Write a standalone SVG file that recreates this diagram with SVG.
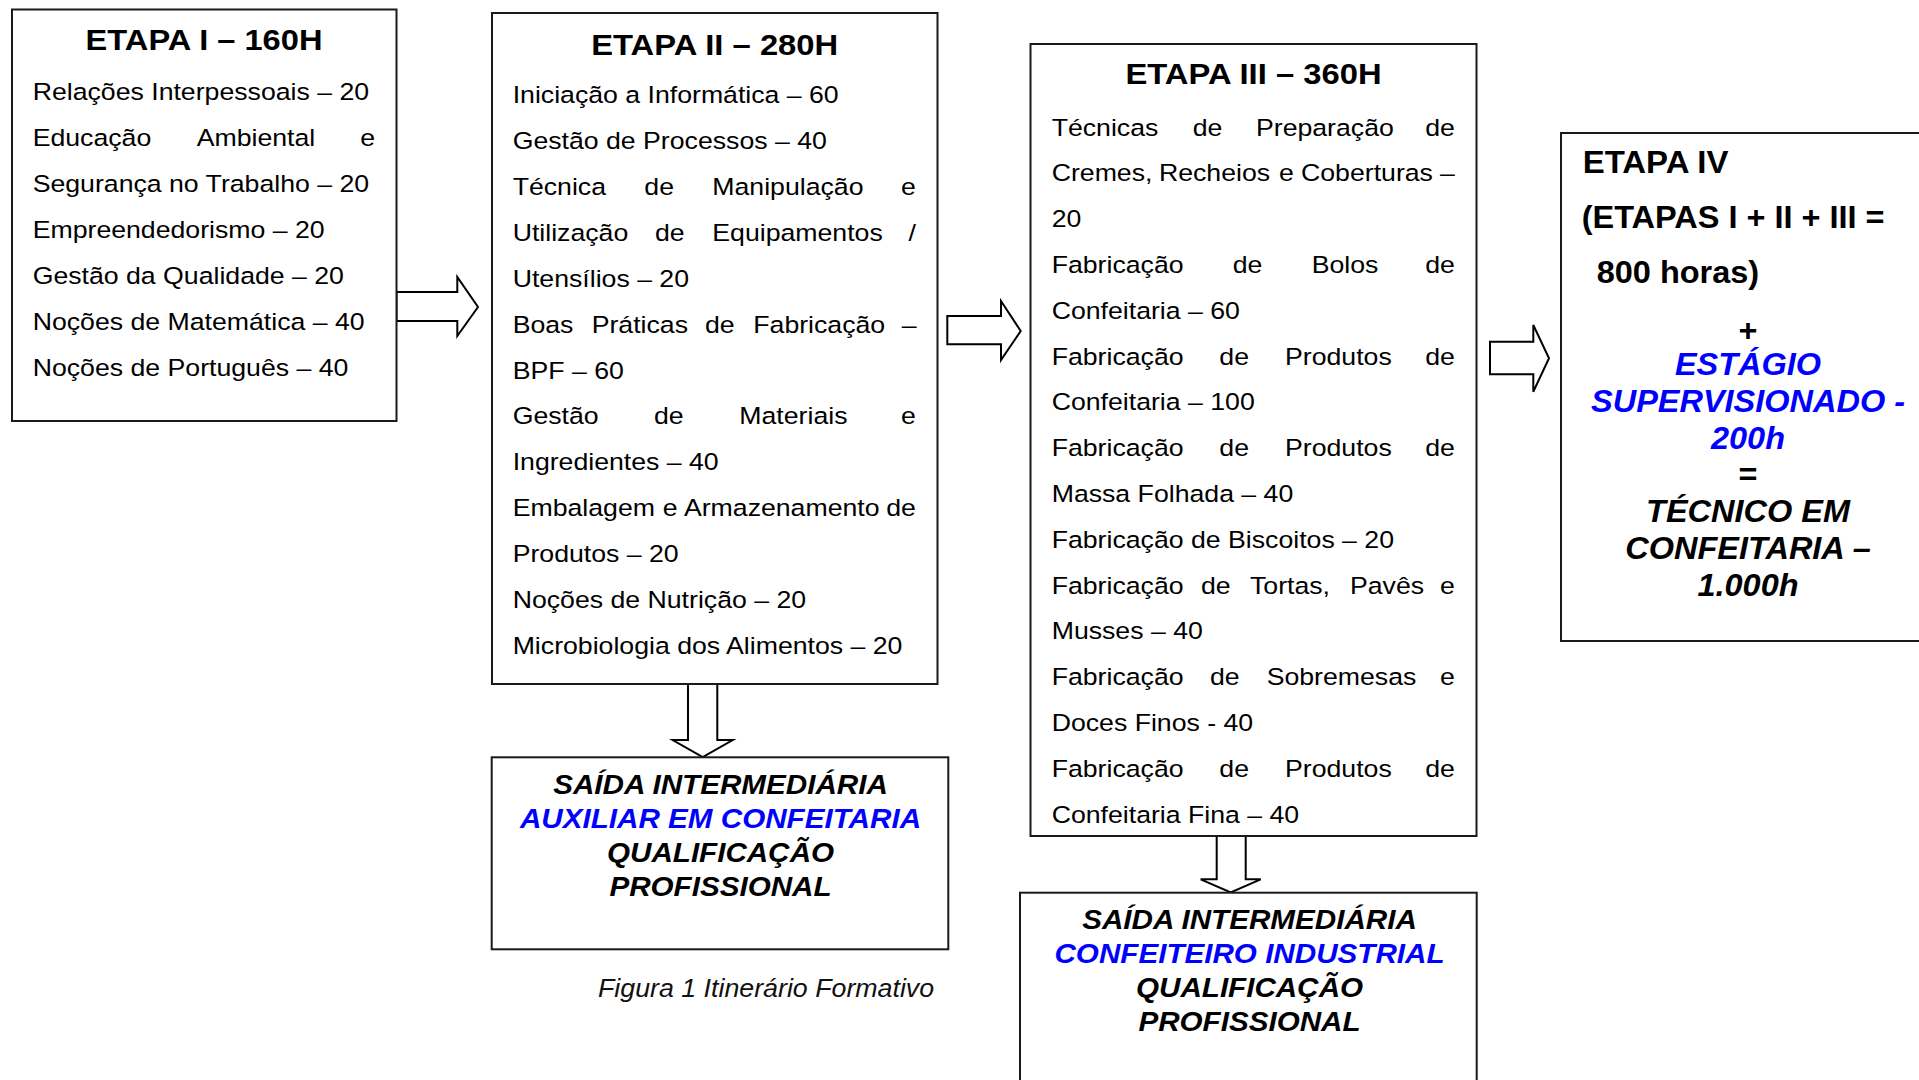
<svg xmlns="http://www.w3.org/2000/svg" width="1919" height="1080" viewBox="0 0 1919 1080">
<style>
.box{fill:#fff;stroke:#1a1a1a;stroke-width:2}
.arr{fill:#fff;stroke:#000;stroke-width:2;stroke-linejoin:miter}
text{font-family:"Liberation Sans",Arial,sans-serif;fill:#000}
.t{font-size:23.5px}
.h{font-size:29px;font-weight:bold;text-anchor:middle}
.e{text-anchor:end}
.iv{font-size:30.5px;font-weight:bold}
.c{text-anchor:middle}
.bi{font-weight:bold;font-style:italic}
.s{font-size:28.5px;font-weight:bold;font-style:italic;text-anchor:middle}
.blue{fill:#0000ff}
.cap{font-size:26px;font-style:italic;fill:#111}
</style>
<rect width="1919" height="1080" fill="#fff"/>

<g id="connectors">
<polygon class="arr" points="396.5,292 457.3,292 457.3,277 478,307 457.3,336 457.3,321 396.5,321"/>
<polygon class="arr" points="947.3,316 1001,316 1001,301 1020.7,331 1001,360 1001,344.3 947.3,344.3"/>
<polygon class="arr" points="1490,341.7 1533.3,341.7 1533.3,325 1549,358.3 1533.3,391.7 1533.3,374.3 1490,374.3"/>
<polygon class="arr" points="688,684 688,740 672.7,740 702.7,757 732.7,740 717.3,740 717.3,684"/>
<polygon class="arr" points="1216.7,836 1216.7,879.3 1200.7,879.3 1230.7,892.5 1260.7,879.3 1245.7,879.3 1245.7,836"/>
</g>

<g id="etapa1">
<rect class="box" x="12" y="9.5" width="384.5" height="411.5"/>
<text class="h" transform="translate(204 49.5) scale(1.125 1)">ETAPA I – 160H</text>
<g transform="scale(1.135 1)">
<text class="t" x="28.8" y="100">Relações Interpessoais – 20</text>
<text class="t" x="28.8" y="146">Educação</text>
<text class="t" x="173.3" y="146">Ambiental</text>
<text class="t e" x="330.4" y="146">e</text>
<text class="t" x="28.8" y="192">Segurança no Trabalho – 20</text>
<text class="t" x="28.8" y="238">Empreendedorismo – 20</text>
<text class="t" x="28.8" y="284">Gestão da Qualidade – 20</text>
<text class="t" x="28.8" y="330">Noções de Matemática – 40</text>
<text class="t" x="28.8" y="376">Noções de Português – 40</text>
</g>
</g>

<g id="etapa2">
<rect class="box" x="492" y="13" width="445.5" height="671"/>
<text class="h" transform="translate(714.7 54.5) scale(1.13 1)">ETAPA II – 280H</text>
<g transform="scale(1.135 1)">
<text class="t" x="451.7" y="103.5">Iniciação a Informática – 60</text>
<text class="t" x="451.7" y="149.35">Gestão de Processos – 40</text>
<text class="t" x="451.7" y="195.2">Técnica</text>
<text class="t" x="567.7" y="195.2">de</text>
<text class="t" x="627.6" y="195.2">Manipulação</text>
<text class="t e" x="807" y="195.2">e</text>
<text class="t" x="451.7" y="241.05">Utilização</text>
<text class="t" x="577.1" y="241.05">de</text>
<text class="t" x="627.6" y="241.05">Equipamentos</text>
<text class="t e" x="807" y="241.05">/</text>
<text class="t" x="451.7" y="286.9">Utensílios – 20</text>
<text class="t" x="451.7" y="332.75">Boas</text>
<text class="t" x="521.3" y="332.75">Práticas</text>
<text class="t" x="621.1" y="332.75">de</text>
<text class="t" x="663.7" y="332.75">Fabricação</text>
<text class="t e" x="807.6" y="332.75">–</text>
<text class="t" x="451.7" y="378.6">BPF – 60</text>
<text class="t" x="451.7" y="424.45">Gestão</text>
<text class="t" x="576.2" y="424.45">de</text>
<text class="t" x="651.4" y="424.45">Materiais</text>
<text class="t e" x="807" y="424.45">e</text>
<text class="t" x="451.7" y="470.3">Ingredientes – 40</text>
<text class="t" x="451.7" y="516.15">Embalagem</text>
<text class="t" x="583.9" y="516.15">e</text>
<text class="t" x="602.6" y="516.15">Armazenamento</text>
<text class="t e" x="807" y="516.15">de</text>
<text class="t" x="451.7" y="562">Produtos – 20</text>
<text class="t" x="451.7" y="607.85">Noções de Nutrição – 20</text>
<text class="t" x="451.7" y="653.7">Microbiologia dos Alimentos – 20</text>
</g>
</g>

<g id="etapa3">
<rect class="box" x="1030.5" y="44" width="446" height="792"/>
<text class="h" transform="translate(1253.5 84.3) scale(1.13 1)">ETAPA III – 360H</text>
<g transform="scale(1.135 1)">
<text class="t" x="926.6" y="135.7">Técnicas</text>
<text class="t" x="1050.8" y="135.7">de</text>
<text class="t" x="1106.6" y="135.7">Preparação</text>
<text class="t e" x="1281.9" y="135.7">de</text>
<text class="t" x="926.6" y="181.5">Cremes,</text>
<text class="t" x="1021.1" y="181.5">Recheios</text>
<text class="t" x="1126.9" y="181.5">e</text>
<text class="t" x="1146.3" y="181.5">Coberturas</text>
<text class="t e" x="1281.9" y="181.5">–</text>
<text class="t" x="926.6" y="227.3">20</text>
<text class="t" x="926.6" y="273.1">Fabricação</text>
<text class="t" x="1086.1" y="273.1">de</text>
<text class="t" x="1155.7" y="273.1">Bolos</text>
<text class="t e" x="1281.9" y="273.1">de</text>
<text class="t" x="926.6" y="318.9">Confeitaria – 60</text>
<text class="t" x="926.6" y="364.7">Fabricação</text>
<text class="t" x="1074.3" y="364.7">de</text>
<text class="t" x="1132.2" y="364.7">Produtos</text>
<text class="t e" x="1281.9" y="364.7">de</text>
<text class="t" x="926.6" y="410.5">Confeitaria – 100</text>
<text class="t" x="926.6" y="456.3">Fabricação</text>
<text class="t" x="1074.3" y="456.3">de</text>
<text class="t" x="1132.2" y="456.3">Produtos</text>
<text class="t e" x="1281.9" y="456.3">de</text>
<text class="t" x="926.6" y="502.1">Massa Folhada – 40</text>
<text class="t" x="926.6" y="547.9">Fabricação de Biscoitos – 20</text>
<text class="t" x="926.6" y="593.7">Fabricação</text>
<text class="t" x="1058.1" y="593.7">de</text>
<text class="t" x="1101.3" y="593.7">Tortas,</text>
<text class="t" x="1189.4" y="593.7">Pavês</text>
<text class="t e" x="1281.9" y="593.7">e</text>
<text class="t" x="926.6" y="639.5">Musses – 40</text>
<text class="t" x="926.6" y="685.3">Fabricação</text>
<text class="t" x="1066.1" y="685.3">de</text>
<text class="t" x="1116" y="685.3">Sobremesas</text>
<text class="t e" x="1281.9" y="685.3">e</text>
<text class="t" x="926.6" y="731.1">Doces Finos - 40</text>
<text class="t" x="926.6" y="776.9">Fabricação</text>
<text class="t" x="1074.3" y="776.9">de</text>
<text class="t" x="1132.2" y="776.9">Produtos</text>
<text class="t e" x="1281.9" y="776.9">de</text>
<text class="t" x="926.6" y="822.7">Confeitaria Fina – 40</text>
</g>
</g>

<g id="etapa4">
<rect class="box" x="1561" y="133" width="370" height="508"/>
<text class="iv" transform="translate(1582.7 173.3) scale(1.08 1)">ETAPA IV</text>
<text class="iv" transform="translate(1581.7 228) scale(1.065 1)">(ETAPAS I + II + III =</text>
<text class="iv" transform="translate(1596.7 282.5) scale(1.065 1)">800 horas)</text>
<text class="iv c" transform="translate(1748 341) scale(1.065 1)">+</text>
<text class="iv c bi blue" transform="translate(1748 374.5) scale(1.065 1)">ESTÁGIO</text>
<text class="iv c bi blue" transform="translate(1748 411.5) scale(1.065 1)">SUPERVISIONADO -</text>
<text class="iv c bi blue" transform="translate(1748 448.5) scale(1.065 1)">200h</text>
<text class="iv c" transform="translate(1748 485) scale(1.065 1)">=</text>
<text class="iv c bi" transform="translate(1748 521.5) scale(1.065 1)">TÉCNICO EM</text>
<text class="iv c bi" transform="translate(1748 558.5) scale(1.065 1)">CONFEITARIA –</text>
<text class="iv c bi" transform="translate(1748 595.5) scale(1.065 1)">1.000h</text>
</g>

<g id="saida1">
<rect class="box" x="491.7" y="757.3" width="456.6" height="192"/>
<text class="s" transform="translate(720.5 794) scale(1.04 1)">SAÍDA INTERMEDIÁRIA</text>
<text class="s blue" transform="translate(720.5 828) scale(1.04 1)">AUXILIAR EM CONFEITARIA</text>
<text class="s" transform="translate(720.5 862) scale(1.04 1)">QUALIFICAÇÃO</text>
<text class="s" transform="translate(720.5 896) scale(1.04 1)">PROFISSIONAL</text>
</g>

<g id="saida2">
<rect class="box" x="1020" y="892.7" width="456.7" height="200"/>
<text class="s" transform="translate(1249.5 929) scale(1.04 1)">SAÍDA INTERMEDIÁRIA</text>
<text class="s blue" transform="translate(1249.5 963) scale(1.04 1)">CONFEITEIRO INDUSTRIAL</text>
<text class="s" transform="translate(1249.5 997) scale(1.04 1)">QUALIFICAÇÃO</text>
<text class="s" transform="translate(1249.5 1031) scale(1.04 1)">PROFISSIONAL</text>
</g>

<g id="caption">
<text class="cap" transform="translate(598 996.7) scale(1.03 1)">Figura 1 Itinerário Formativo</text>
</g>
</svg>
